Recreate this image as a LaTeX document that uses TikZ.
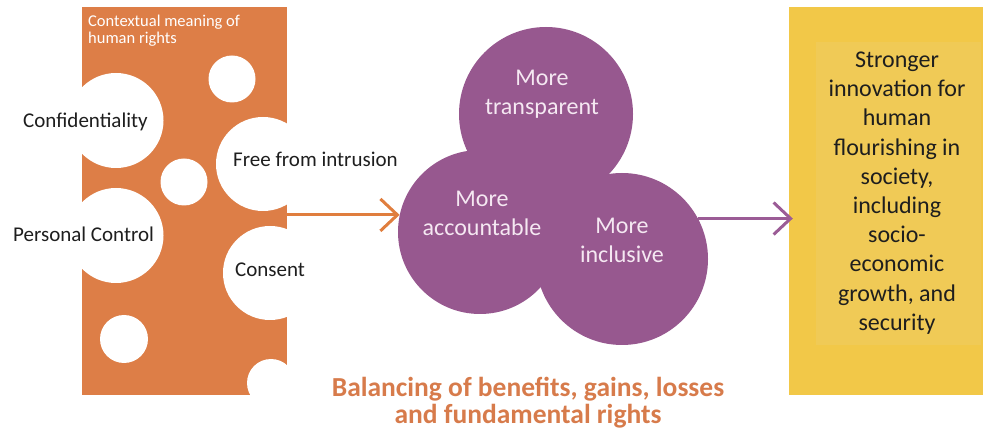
\documentclass[tikz,border=0pt]{standalone}
\usepackage{fontspec}
\setmainfont{Carlito}
\usetikzlibrary{arrows.meta}
\definecolor{orng}{HTML}{DD7E47}
\definecolor{orngtxt}{HTML}{D77B4B}
\definecolor{orngarrow}{HTML}{E07E3E}
\definecolor{purp}{HTML}{97588F}
\definecolor{purparrow}{HTML}{9B5C96}
\definecolor{purptxt}{HTML}{F5E8F2}
\definecolor{yell}{HTML}{F2C848}
\definecolor{yellin}{HTML}{F0CA56}
\definecolor{txtdark}{HTML}{1E1E1E}
\tikzset{
  blob/.style={circle, fill=purp, inner sep=0pt, draw=none},
  holetxt/.style={anchor=base west, inner sep=0pt, text=txtdark, font=\fontsize{21}{25}\selectfont},
  purptext/.style={align=center, inner sep=0pt, text=purptxt, font=\fontsize{24}{29}\selectfont},
  barb/.style={line width=3pt, -{Straight Barb[length=17pt,width=32pt,line width=3pt]}},
}
\begin{document}
\begin{tikzpicture}[x=1pt,y=-1pt]
\useasboundingbox (0,0) rectangle (983,430);
% left orange panel
\node[fill=orng, inner sep=0pt, minimum width=205pt, minimum height=388pt] (ctx) at (184.5,201) {};
\fill[white] (232,79) circle (23.5pt);
\fill[white] (116,120.5) circle (47.5pt);
\fill[white] (184,182) circle (23.5pt);
\fill[white] (263,164) circle (47pt);
\fill[white] (116,235.5) circle (47.5pt);
\fill[white] (270,273) circle (47pt);
\fill[white] (124,339) circle (24pt);
\fill[white] (271,383) circle (24pt);
\node[anchor=north west, inner sep=0pt, align=left, text=white, font=\fontsize{16.5}{17.5}\selectfont] (title) at (88,14.5) {Contextual meaning of\\human rights};
\node[holetxt] (conf) at (23,128) {Confidentiality};
\node[holetxt] (free) at (233,167) {Free from intrusion};
\node[holetxt] (pers) at (13,242) {Personal Control};
\node[holetxt] (cons) at (235,277) {Consent};
% purple cluster
\node[blob, minimum size=174pt] (top) at (546,114) {};
\node[blob, minimum size=164pt] (acc) at (480,232) {};
\node[blob, minimum size=172pt] (inc) at (622,259) {};
\fill[purp] (top.center) -- (acc.center) -- (inc.center) -- cycle;
\node[purptext] (ttop) at (542,94) {More\\transparent};
\node[purptext] (tacc) at (482,213) {More\\accountable};
\node[purptext] (tinc) at (622,240) {More\\inclusive};
% yellow outcome
\node[fill=yell, inner sep=0pt, minimum width=194pt, minimum height=388pt] (out) at (886,201) {};
\fill[yellin] (816,42) rectangle (981,345);
\node[align=center, inner sep=0pt, text=txtdark, font=\fontsize{24}{29.2}\selectfont] (outtxt) at (897,193)
  {Stronger\\innovation for\\human\\flourishing in\\society,\\including\\socio-\\economic\\growth, and\\security};
% arrows
\draw[barb, draw=orngarrow] (ctx.east |- acc.168) -- (acc.168);
\draw[barb, draw=purparrow] (inc.28) -- ([xshift=4pt]out.west |- inc.28);
% bottom caption
\node[anchor=base, align=center, inner sep=0pt, text=orngtxt, font=\bfseries\fontsize{27.5}{26.5}\selectfont] (cap) at (528,423)
  {Balancing of benefits, gains, losses\\and fundamental rights};
\end{tikzpicture}
\end{document}
